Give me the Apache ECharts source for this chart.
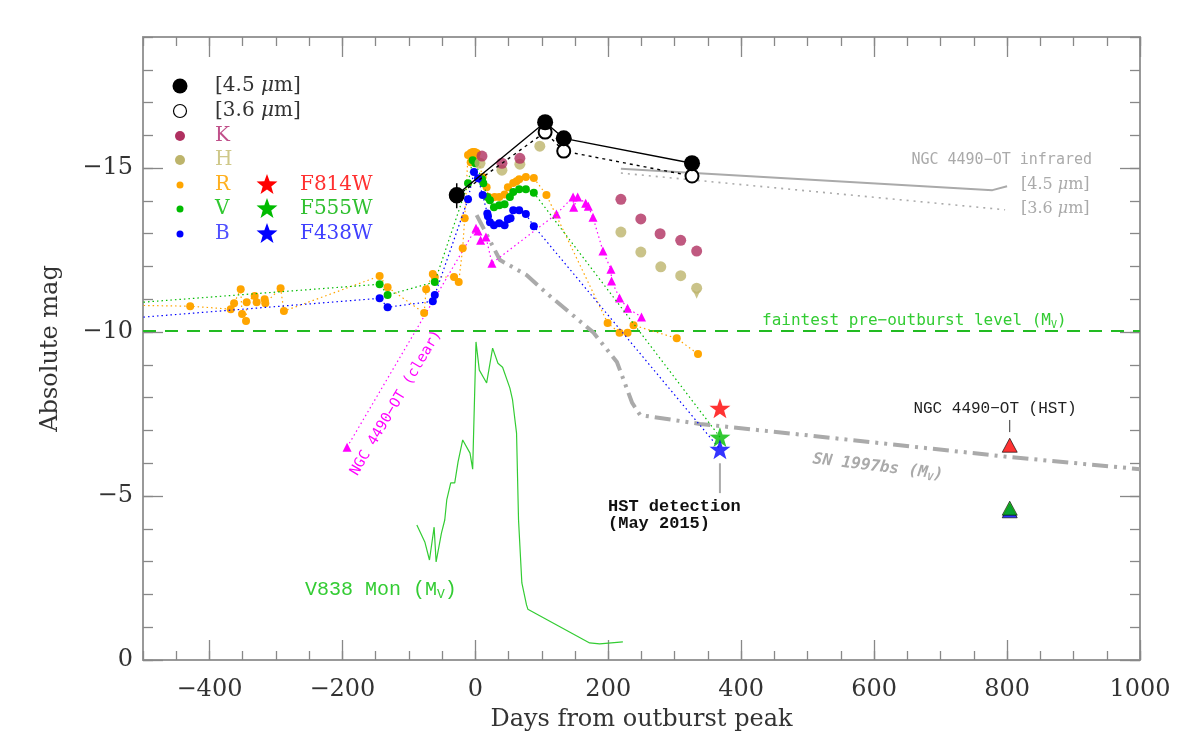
<!DOCTYPE html>
<html><head><meta charset="utf-8">
<script src="https://cdn.jsdelivr.net/npm/echarts@6/dist/echarts.min.js"></script>
<style>html,body{margin:0;padding:0;background:#fff}#c{width:1200px;height:750px}</style>
</head><body><div id="c"></div>
<script>
// ---------------- DATA ----------------
const xTickMajor = [-400, -200, 0, 200, 400, 600, 800, 1000];
const yTickMajor = [-15, -10, -5, 0];

const ir45 = [[-28, -14.18], [105, -16.40], [133, -15.91], [326, -15.15]];
const ir45Err = [[-28, -13.78], [-28, -14.54]];
const ir36 = [[-28, -14.15], [105, -16.10], [133, -15.52], [326, -14.76]];

const bandK = [[10, -15.37], [40, -15.15], [67, -15.30], [219, -14.05], [249, -13.45], [278, -13.00], [309, -12.80], [333, -12.47]];
const bandH = [[7, -15.15], [40, -14.94], [67, -15.12], [97, -15.67], [219, -13.05], [249, -12.44], [279, -11.99], [309, -11.72], [333, -11.34]];
const bandHLimit = [[333, -11.02]];

const bandR = [[-560, -10.83], [-429, -10.79], [-368, -10.70], [-363, -10.88], [-353, -11.31], [-351, -10.55], [-345, -10.34], [-344, -10.91],
  [-332, -11.10], [-329, -10.91], [-317, -11.00], [-316, -10.88], [-293, -11.34], [-288, -10.64], [-144, -11.71], [-132, -11.37],
  [-77, -10.58], [-74, -11.31], [-64, -11.77], [-61, -11.68], [-32, -11.68], [-25, -11.53], [-19, -12.56], [-16, -13.47],
  [-11, -15.40], [-7, -15.18], [-7, -15.46], [-4, -15.49], [-1, -15.49], [1, -15.30], [2, -15.46], [11, -14.73], [17, -14.42],
  [20, -14.12], [29, -14.12], [36, -14.12], [44, -14.20], [49, -14.42], [57, -14.55], [62, -14.60], [66, -14.66], [76, -14.73],
  [88, -14.70], [107, -14.18], [199, -10.28], [217, -9.98], [229, -9.98], [238, -10.21], [303, -9.81], [335, -9.33]];
const bandV = [[-560, -10.82], [-144, -11.46], [-132, -11.13], [-61, -11.53], [-11, -14.54], [-4, -15.24], [0, -15.15], [10, -14.66],
  [12, -14.54], [18, -14.12], [22, -14.02], [28, -13.81], [36, -13.87], [44, -13.90], [52, -14.12], [57, -14.27], [66, -14.36],
  [76, -14.36], [88, -14.25]];
const bandB = [[-560, -10.36], [-144, -11.03], [-132, -10.76], [-64, -10.94], [-61, -11.13], [-11, -14.05], [-2, -14.88], [4, -14.69],
  [11, -14.18], [18, -13.62], [19, -13.53], [22, -13.35], [28, -13.26], [36, -13.32], [44, -13.26], [49, -13.44], [53, -13.47],
  [57, -13.72], [66, -13.72], [76, -13.60], [88, -13.23]];

const clearOT = [[-193, -6.49], [1, -13.17], [4, -13.08], [8, -12.80], [16, -12.90], [25, -12.10], [122, -13.60], [147, -14.12],
  [148, -13.81], [154, -14.12], [166, -13.93], [170, -13.84], [177, -13.50], [192, -12.47], [204, -11.92], [205, -11.56],
  [217, -11.04], [229, -10.73], [250, -10.46]];

const sn1997bs = [[2, -13.57], [37, -12.20], [77, -11.74], [107, -11.19], [177, -10.00], [213, -9.09], [236, -7.84], [248, -7.47],
  [338, -7.20], [496, -6.86], [804, -6.19], [1000, -5.82]];

const v838Mon = [[-88, -4.12], [-76, -3.60], [-69, -3.05], [-62, -4.05], [-59, -2.99], [-51, -3.87], [-46, -4.27], [-43, -4.88],
  [-37, -5.40], [-31, -5.40], [-26, -6.04], [-19, -6.71], [-8, -6.31], [-4, -5.82], [1, -9.70], [6, -8.84], [17, -8.45],
  [26, -9.51], [34, -9.05], [41, -8.93], [52, -8.29], [56, -7.93], [62, -6.92], [65, -4.27], [70, -2.35], [77, -1.68],
  [79, -1.55], [172, -0.52], [187, -0.49], [222, -0.55]];

const irOT45 = [[219, -14.98], [778, -14.33], [800, -14.45]];
const irOT36 = [[219, -14.85], [797, -13.73]];

const faintLevel = [[-500, -10.03], [1000, -10.03]];

const hstF814W = [[368, -7.68]];
const hstF555W = [[368, -6.80]];
const hstF438W = [[368, -6.43]];
const hstLeader = [[368, -6.00], [368, -5.09]];

const otHstRed = [[804, -6.55]];
const otHstGreen = [[804, -4.63]];
const otHstBlue = [[804, -4.55]];
const otHstLeader = [[804, -7.32], [804, -6.95]];

// ---------------- STYLE ----------------
const MINUS = '\u2212';
const fmt = v => (v < 0 ? MINUS + Math.abs(v) : String(v));
const SERIF = '"DejaVu Serif"';
const AXC = '#999';
const STAR = 'path://M0,-10L2.35,-3.24L9.51,-3.09L3.8,1.24L5.88,8.09L0,4L-5.88,8.09L-3.8,1.24L-9.51,-3.09L-2.35,-3.24Z';
const C = {
  K: '#B03060', H: '#BDB46B', R: '#FFA500', V: '#00BB00', B: '#0000FF', M: '#FF00FF',
  grey: '#AAAAAA', v838: '#33CC33', faint: '#22BB22'
};

function withLeadIn(arr) {
  return arr.map(p => (p[0] < -500 ? { value: p, symbol: 'none' } : p));
}

const xBase = { type: 'value', min: -500, max: 1000, splitLine: { show: false } };
const yBase = { type: 'value', min: -19, max: 0, inverse: true, splitLine: { show: false } };
const tickLine = { color: '#888', width: 1.3 };
const axisLineStyle = { show: true, onZero: false, lineStyle: { color: AXC, width: 2 } };
const noLine = { show: false, onZero: false };
const labelStyle = { fontFamily: SERIF, fontSize: 24, color: '#333' };

function starPts(cx, cy, R, r) {
  const pts = [];
  for (let i = 0; i < 10; i++) {
    const a = -Math.PI / 2 + i * Math.PI / 5;
    const rr = i % 2 === 0 ? R : r;
    pts.push([cx + rr * Math.cos(a), cy + rr * Math.sin(a)]);
  }
  return pts;
}

const rows = [86, 111, 136, 160, 185, 209, 234];
const legendText = (y, text, fill, x) => ({
  type: 'text', x: x || 215, y: y,
  style: { text: text, fill: fill, font: '20px ' + SERIF, textVerticalAlign: 'middle',
    rich: { i: { fontStyle: 'italic', fontFamily: 'DejaVu Serif', fontSize: 20, fill: fill } } }
});

const graphics = [
  { type: 'circle', shape: { cx: 180, cy: rows[0], r: 7.5 }, style: { fill: '#000' } },
  { type: 'circle', shape: { cx: 180, cy: rows[1], r: 6.5 }, style: { fill: '#fff', stroke: '#000', lineWidth: 1.2 } },
  { type: 'circle', shape: { cx: 180, cy: rows[2], r: 5 }, style: { fill: C.K } },
  { type: 'circle', shape: { cx: 180, cy: rows[3], r: 5 }, style: { fill: C.H } },
  { type: 'circle', shape: { cx: 180, cy: rows[4], r: 3.5 }, style: { fill: C.R } },
  { type: 'circle', shape: { cx: 180, cy: rows[5], r: 3.5 }, style: { fill: C.V } },
  { type: 'circle', shape: { cx: 180, cy: rows[6], r: 3.5 }, style: { fill: C.B } },
  legendText(rows[0], '[4.5 {i|μ}m]', '#333'),
  legendText(rows[1], '[3.6 {i|μ}m]', '#333'),
  legendText(rows[2], 'K', '#C0508A'),
  legendText(rows[3], 'H', '#CFC88A'),
  legendText(rows[4], 'R', '#FFB020'),
  legendText(rows[5], 'V', '#30C830'),
  legendText(rows[6], 'B', '#5050FF'),
  { type: 'polygon', shape: { points: starPts(267, rows[4], 11, 4.5) }, style: { fill: '#FF0000' } },
  { type: 'polygon', shape: { points: starPts(267, rows[5], 11, 4.5) }, style: { fill: '#00BB00' } },
  { type: 'polygon', shape: { points: starPts(267, rows[6], 11, 4.5) }, style: { fill: '#0000FF' } },
  legendText(rows[4], 'F814W', '#FF3030', 300),
  legendText(rows[5], 'F555W', '#30C030', 300),
  legendText(rows[6], 'F438W', '#4040FF', 300),

  // annotations
  { type: 'text', x: 1092, y: 160, style: { text: 'NGC 4490' + MINUS + 'OT infrared', fill: C.grey, font: '15px "DejaVu Sans Mono"', textAlign: 'right', textVerticalAlign: 'middle' } },
  { type: 'text', x: 1021, y: 185, style: { text: '[4.5 {i|μ}m]', fill: C.grey, font: '16px ' + SERIF, textVerticalAlign: 'middle', rich: { i: { fontStyle: 'italic', fontFamily: 'DejaVu Serif', fontSize: 16, fill: C.grey } } } },
  { type: 'text', x: 1021, y: 209, style: { text: '[3.6 {i|μ}m]', fill: C.grey, font: '16px ' + SERIF, textVerticalAlign: 'middle', rich: { i: { fontStyle: 'italic', fontFamily: 'DejaVu Serif', fontSize: 16, fill: C.grey } } } },
  { type: 'text', x: 762, y: 321, style: { text: 'faintest pre' + MINUS + 'outburst level (M{s|V})', fill: '#33CC33', font: '16px "DejaVu Sans Mono"', textVerticalAlign: 'middle',
      rich: { s: { fontSize: 10, fontFamily: 'DejaVu Sans Mono', fill: '#33CC33', verticalAlign: 'bottom', padding: [8, 0, 0, 0] } } } },
  { type: 'text', x: 396, y: 403, rotation: 59.5 * Math.PI / 180, style: { text: 'NGC 4490' + MINUS + 'OT (clear)', fill: C.M, font: '14.5px "DejaVu Sans Mono"', textAlign: 'center', textVerticalAlign: 'middle' } },
  { type: 'text', x: 878, y: 467, rotation: -7 * Math.PI / 180, style: { text: 'SN 1997bs (M{s|V})', fill: C.grey, font: 'italic bold 16px "DejaVu Sans Mono"', textAlign: 'center', textVerticalAlign: 'middle',
      rich: { s: { fontSize: 10, fontStyle: 'italic', fontWeight: 'bold', fontFamily: 'DejaVu Sans Mono', fill: C.grey, padding: [8, 0, 0, 0] } } } },
  { type: 'text', x: 608, y: 507, style: { text: 'HST detection', fill: '#111', font: 'bold 17px "Liberation Mono"', textVerticalAlign: 'middle' } },
  { type: 'text', x: 608, y: 524, style: { text: '(May 2015)', fill: '#111', font: 'bold 17px "Liberation Mono"', textVerticalAlign: 'middle' } },
  { type: 'text', x: 995, y: 409, style: { text: 'NGC 4490' + MINUS + 'OT (HST)', fill: '#222', font: '16px "Liberation Mono"', textAlign: 'center', textVerticalAlign: 'middle' } },
  { type: 'text', x: 305, y: 590, style: { text: 'V838 Mon (M{s|V})', fill: C.v838, font: '20px "Liberation Mono"', textVerticalAlign: 'middle',
      rich: { s: { fontSize: 13, fontFamily: 'Liberation Mono', fill: C.v838, padding: [10, 0, 0, 0] } } } }
];

const option = {
  animation: false,
  backgroundColor: '#fff',
  grid: { left: 143, right: 60, top: 37, bottom: 90, containLabel: false },
  xAxis: [
    Object.assign({}, xBase, { position: 'bottom', interval: 50, axisLine: axisLineStyle,
      axisTick: { inside: true, length: 9, lineStyle: tickLine },
      axisLabel: { customValues: xTickMajor, formatter: fmt, margin: 18, fontFamily: SERIF, fontSize: 24, color: '#333' },
      name: 'Days from outburst peak', nameLocation: 'middle', nameGap: 48,
      nameTextStyle: labelStyle }),
    Object.assign({}, xBase, { position: 'bottom', axisLine: noLine,
      axisTick: { inside: true, length: 20, customValues: xTickMajor, lineStyle: tickLine }, axisLabel: { show: false } }),
    Object.assign({}, xBase, { position: 'top', interval: 50, axisLine: axisLineStyle,
      axisTick: { inside: true, length: 9, lineStyle: tickLine }, axisLabel: { show: false } }),
    Object.assign({}, xBase, { position: 'top', axisLine: noLine,
      axisTick: { inside: true, length: 20, customValues: xTickMajor, lineStyle: tickLine }, axisLabel: { show: false } })
  ],
  yAxis: [
    Object.assign({}, yBase, { position: 'left', interval: 1, axisLine: axisLineStyle,
      axisTick: { inside: true, length: 10, lineStyle: tickLine },
      axisLabel: { customValues: yTickMajor, formatter: fmt, margin: 10, fontFamily: SERIF, fontSize: 24, color: '#333' },
      name: 'Absolute mag', nameLocation: 'middle', nameGap: 80, nameRotate: 90,
      nameTextStyle: labelStyle }),
    Object.assign({}, yBase, { position: 'left', axisLine: noLine,
      axisTick: { inside: true, length: 20, customValues: yTickMajor, lineStyle: tickLine }, axisLabel: { show: false } }),
    Object.assign({}, yBase, { position: 'right', interval: 1, axisLine: axisLineStyle,
      axisTick: { inside: true, length: 10, lineStyle: tickLine }, axisLabel: { show: false } }),
    Object.assign({}, yBase, { position: 'right', axisLine: noLine,
      axisTick: { inside: true, length: 20, customValues: yTickMajor, lineStyle: tickLine }, axisLabel: { show: false } })
  ],
  graphic: graphics,
  series: [
    { name: 'faint', type: 'line', data: faintLevel, symbol: 'none', silent: true, z: 1,
      lineStyle: { color: C.faint, width: 2, type: [13, 9] } },
    { name: 'SN 1997bs', type: 'line', data: sn1997bs, symbol: 'none', silent: true, z: 2,
      lineStyle: { color: C.grey, width: 4, type: [16, 6, 3, 6, 3, 6] } },
    { name: 'V838 Mon', type: 'line', data: v838Mon, symbol: 'none', silent: true, z: 2,
      lineStyle: { color: C.v838, width: 1.2 } },
    { name: 'IR OT 4.5', type: 'line', data: irOT45, symbol: 'none', silent: true, z: 2,
      lineStyle: { color: C.grey, width: 2 } },
    { name: 'IR OT 3.6', type: 'line', data: irOT36, symbol: 'none', silent: true, z: 2,
      lineStyle: { color: C.grey, width: 1.6, type: [2, 5] } },
    { name: 'clear', type: 'line', data: clearOT, symbol: 'triangle', symbolSize: 9, silent: true, z: 3,
      itemStyle: { color: C.M }, lineStyle: { color: C.M, width: 1.2, type: [1.5, 3] } },
    { name: 'R', type: 'line', data: withLeadIn(bandR), symbol: 'circle', symbolSize: 8, silent: true, z: 4,
      itemStyle: { color: C.R }, lineStyle: { color: C.R, width: 1.2, type: [1.5, 3] } },
    { name: 'V', type: 'line', data: withLeadIn(bandV).concat([{ value: hstF555W[0], symbol: 'none' }]), symbol: 'circle', symbolSize: 8, silent: true, z: 5,
      itemStyle: { color: C.V }, lineStyle: { color: C.V, width: 1.2, type: [1.5, 3] } },
    { name: 'B', type: 'line', data: withLeadIn(bandB).concat([{ value: hstF438W[0], symbol: 'none' }]), symbol: 'circle', symbolSize: 8, silent: true, z: 6,
      itemStyle: { color: C.B }, lineStyle: { color: C.B, width: 1.2, type: [1.5, 3] } },
    { name: 'H', type: 'scatter', data: bandH, symbol: 'circle', symbolSize: 11, silent: true, z: 7, itemStyle: { color: C.H } },
    { name: 'H limit', type: 'scatter', data: bandHLimit, symbol: 'arrow', symbolRotate: 180, symbolSize: [6, 9], silent: true, z: 7, itemStyle: { color: C.H } },
    { name: 'K', type: 'scatter', data: bandK, symbol: 'circle', symbolSize: 11, silent: true, z: 7, itemStyle: { color: C.K } },
    { name: '[3.6]', type: 'line', data: ir36, symbol: 'emptyCircle', symbolSize: 13, silent: true, z: 8,
      itemStyle: { color: '#000', borderWidth: 1.2 }, lineStyle: { color: '#000', width: 1.4, type: [3, 4] } },
    { name: '[4.5]', type: 'line', data: ir45, symbol: 'circle', symbolSize: 16, silent: true, z: 9,
      itemStyle: { color: '#000' }, lineStyle: { color: '#000', width: 1.4 } },
    { name: '[4.5] err', type: 'line', data: ir45Err, symbol: 'none', silent: true, z: 9,
      lineStyle: { color: '#000', width: 1.5 } },
    { name: 'F814W', type: 'scatter', data: hstF814W, symbol: STAR, symbolSize: [21, 20], silent: true, z: 10, itemStyle: { color: '#FF0000' } },
    { name: 'F555W', type: 'scatter', data: hstF555W, symbol: STAR, symbolSize: [21, 20], silent: true, z: 10, itemStyle: { color: '#00BB00' } },
    { name: 'F438W', type: 'scatter', data: hstF438W, symbol: STAR, symbolSize: [21, 20], silent: true, z: 10, itemStyle: { color: '#0000FF' } },
    { name: 'HST leader', type: 'line', data: hstLeader, symbol: 'none', silent: true, z: 3, lineStyle: { color: C.grey, width: 2 } },
    { name: 'OT HST B', type: 'scatter', data: otHstBlue, symbol: 'triangle', symbolSize: [15, 14], silent: true, z: 10,
      itemStyle: { color: '#0000FF', borderColor: '#000', borderWidth: 0.8 } },
    { name: 'OT HST V', type: 'scatter', data: otHstGreen, symbol: 'triangle', symbolSize: [15, 14], silent: true, z: 11,
      itemStyle: { color: '#00BB00', borderColor: '#000', borderWidth: 0.8 } },
    { name: 'OT HST R', type: 'scatter', data: otHstRed, symbol: 'triangle', symbolSize: [15, 14], silent: true, z: 11,
      itemStyle: { color: '#FF0000', borderColor: '#000', borderWidth: 0.8 } },
    { name: 'OT HST leader', type: 'line', data: otHstLeader, symbol: 'none', silent: true, z: 3, lineStyle: { color: '#333', width: 1 } }
  ]
};
option.series.forEach(s => { s.xAxisIndex = 0; s.yAxisIndex = 0; });

const chart = echarts.init(document.getElementById('c'));
chart.setOption(option);
</script>
</body></html>
